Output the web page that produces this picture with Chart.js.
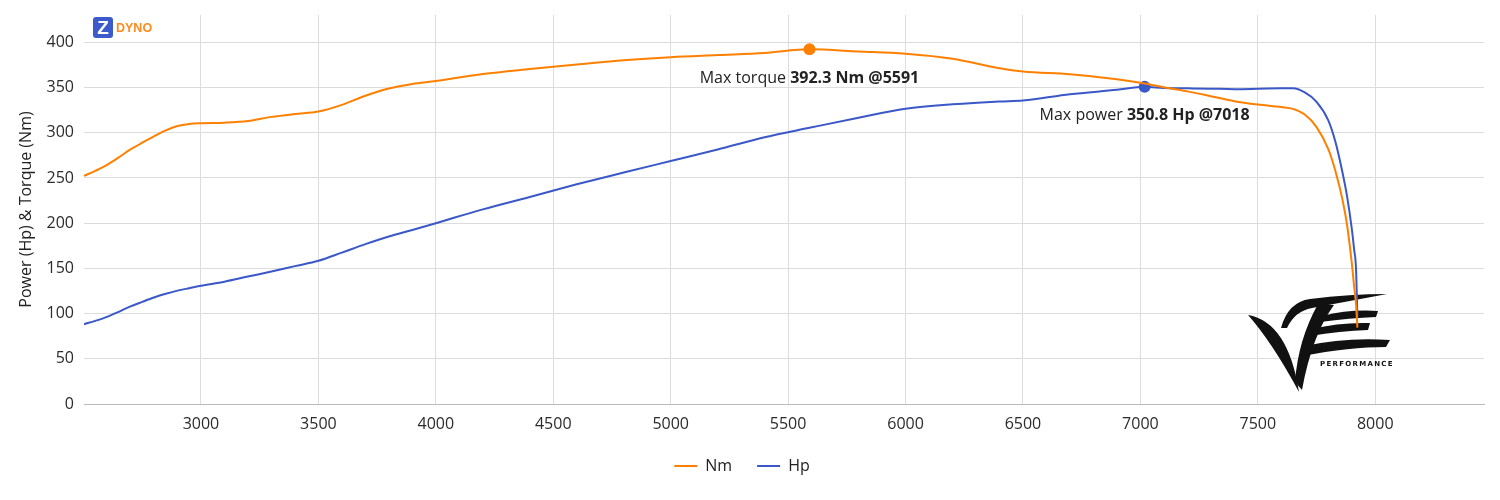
<!DOCTYPE html>
<html>
<head>
<meta charset="utf-8">
<script src="https://cdn.jsdelivr.net/npm/chart.js@4.4.1/dist/chart.umd.min.js"></script>
<style>
  html, body { margin: 0; padding: 0; background: #fff; }
  #wrap { position: relative; width: 1500px; height: 500px; }
  #logo { position: absolute; left: 93px; top: 17px; display: flex; align-items: center; font-family: Arial, "Liberation Sans", sans-serif; }
  #logo .z { width: 20px; height: 21px; background: #3b5bcc; color: #fff; border-radius: 3px; font-weight: bold; font-size: 19px; line-height: 21px; text-align: center; }
  #logo .t { color: #ff8a1e; font-weight: bold; font-size: 12.5px; margin-left: 3px; }
</style>
</head>
<body>
<div id="wrap">
  <canvas id="dyno" width="1500" height="500"></canvas>
  <div id="logo"><div class="z">Z</div><div class="t">DYNO</div></div>
</div>
<script>
// dyno run
const rpm = [2502, 2550, 2600, 2650, 2700, 2750, 2800, 2850, 2900, 2950,
    3000, 3100, 3200, 3300, 3400, 3500, 3600, 3700, 3800, 3900,
    4000, 4200, 4400, 4600, 4800, 5000, 5200, 5400, 5591, 5800,
    6000, 6200, 6400, 6500, 6700, 6900, 7018, 7100, 7200, 7300,
    7400, 7500, 7600, 7650, 7700, 7750, 7800, 7830, 7860, 7880,
    7900, 7910, 7918, 7924];
const torqueNm = [252.3, 257.9, 264.5, 272.8, 281.6, 289.0, 296.0, 302.6, 307.5, 309.8,
    310.6, 311.2, 313.0, 317.6, 320.8, 323.5, 330.9, 341.0, 349.0, 354.0,
    357.2, 365.0, 370.5, 375.5, 380.3, 383.7, 386.0, 388.3, 392.3, 390.0,
    387.5, 382.0, 371.5, 367.9, 364.8, 359.3, 354.6, 350.3, 345.8, 340.5,
    335.0, 331.3, 328.5, 326.5, 320.2, 306.3, 282.0, 258.0, 226.5, 198.0,
    156.0, 130.0, 110.5, 84.5];
const powerHp = [88.3, 92.0, 96.4, 102.0, 108.0, 113.0, 117.8, 121.9, 125.4, 128.1,
    130.7, 135.3, 141.0, 146.5, 152.5, 158.4, 167.5, 176.8, 185.3, 192.5,
    200.0, 215.3, 229.0, 243.0, 256.0, 268.8, 281.6, 295.0, 305.5, 316.7,
    326.5, 331.5, 334.7, 335.7, 342.7, 347.5, 350.8, 349.6, 349.2, 348.8,
    348.3, 348.7, 349.2, 349.3, 344.7, 334.3, 313.8, 290.3, 256.6, 229.7,
    194.0, 171.0, 150.0, 96.0];
const xTicks = [3000, 3500, 4000, 4500, 5000, 5500, 6000, 6500, 7000, 7500, 8000];
const yTicks = [0, 50, 100, 150, 200, 250, 300, 350, 400];
const maxTorque = { rpm: 5591, value: 392.3 };
const maxPower = { rpm: 7018, value: 350.8 };

const ORANGE = '#ff8000';
const BLUE = '#3a58c8';
const FONT = '"Open Sans", "Noto Sans", sans-serif';

Chart.defaults.font.family = FONT;
Chart.defaults.font.size = 16;
Chart.defaults.color = '#2b2b2b';

const toPoints = (ys) => rpm.map((r, i) => ({ x: r, y: ys[i] }));

// "Max torque 392.3 Nm @5591" style captions under the peak dots
const peakLabels = {
    id: 'peakLabels',
    afterDatasetsDraw(chart) {
        const { ctx, scales: { x, y } } = chart;
        const items = [
            [maxTorque, 'Max torque ', maxTorque.value.toFixed(1) + ' Nm @' + maxTorque.rpm],
            [maxPower, 'Max power ', maxPower.value.toFixed(1) + ' Hp @' + maxPower.rpm],
        ];
        ctx.save();
        ctx.textBaseline = 'middle';
        ctx.fillStyle = '#222';
        items.forEach(([pk, plain, bold]) => {
            const cx = x.getPixelForValue(pk.rpm);
            const cy = y.getPixelForValue(pk.value) + 29;
            ctx.font = '16px ' + FONT;
            const w1 = ctx.measureText(plain).width;
            ctx.font = 'bold 16px ' + FONT;
            const w2 = ctx.measureText(bold).width;
            const left = cx - (w1 + w2) / 2;
            ctx.font = '16px ' + FONT;
            ctx.fillText(plain, left, cy);
            ctx.font = 'bold 16px ' + FONT;
            ctx.fillText(bold, left + w1, cy);
        });
        ctx.restore();
    },
};

// rough brush-stroke watermark of the tuner logo
const zeLogo = {
    id: 'zeLogo',
    beforeDatasetsDraw(chart) {
        const ctx = chart.ctx;
        ctx.save();
        ctx.translate(1250, 280);
        ctx.fillStyle = '#111';
        // V left arm
        ctx.beginPath();
        ctx.moveTo(-2, 35);
        ctx.quadraticCurveTo(38, 42, 49, 112);
        ctx.quadraticCurveTo(22, 62, -2, 35);
        ctx.fill();
        // Z hook + top bar
        ctx.beginPath();
        ctx.moveTo(31, 48);
        ctx.quadraticCurveTo(38, 22, 60, 19);
        ctx.quadraticCurveTo(100, 14, 137, 14);
        ctx.quadraticCurveTo(100, 21, 62, 28);
        ctx.quadraticCurveTo(45, 31, 37, 48);
        ctx.fill();
        // Z diagonal into V right arm
        ctx.beginPath();
        ctx.moveTo(68, 24);
        ctx.lineTo(84, 25);
        ctx.quadraticCurveTo(62, 55, 52, 110);
        ctx.lineTo(45, 102);
        ctx.quadraticCurveTo(48, 60, 68, 24);
        ctx.fill();
        // E bars
        ctx.beginPath();
        ctx.moveTo(72, 36); ctx.quadraticCurveTo(100, 29, 128, 31);
        ctx.lineTo(126, 37); ctx.quadraticCurveTo(100, 38, 70, 42);
        ctx.fill();
        ctx.beginPath();
        ctx.moveTo(62, 49); ctx.quadraticCurveTo(90, 42, 120, 43);
        ctx.lineTo(118, 50); ctx.quadraticCurveTo(90, 51, 60, 56);
        ctx.fill();
        ctx.beginPath();
        ctx.moveTo(55, 66); ctx.quadraticCurveTo(95, 57, 140, 60);
        ctx.lineTo(136, 67); ctx.quadraticCurveTo(100, 67, 52, 76);
        ctx.fill();
        ctx.font = 'bold 7px "DejaVu Sans", sans-serif';
        ctx.textBaseline = 'middle';
        ctx.letterSpacing = '1.3px';
        ctx.fillText('PERFORMANCE', 70, 84.5);
        ctx.restore();
    },
};

new Chart(document.getElementById('dyno'), {
    type: 'line',
    data: {
        datasets: [
            { label: 'Nm', data: toPoints(torqueNm), borderColor: ORANGE, backgroundColor: ORANGE, borderWidth: 2, pointRadius: 0, cubicInterpolationMode: 'monotone' },
            { label: 'Hp', data: toPoints(powerHp), borderColor: BLUE, backgroundColor: BLUE, borderWidth: 2, pointRadius: 0, cubicInterpolationMode: 'monotone' },
            { label: 'peakNm', data: [{ x: maxTorque.rpm, y: maxTorque.value }], showLine: false, pointRadius: 6, pointBorderWidth: 0, pointBackgroundColor: ORANGE, borderColor: ORANGE },
            { label: 'peakHp', data: [{ x: maxPower.rpm, y: maxPower.value }], showLine: false, pointRadius: 6, pointBorderWidth: 0, pointBackgroundColor: BLUE, borderColor: BLUE },
        ],
    },
    options: {
        responsive: false,
        animation: false,
        layout: { padding: { left: 0, right: 16, top: 15, bottom: 16 } },
        plugins: {
            tooltip: { enabled: false },
            legend: {
                position: 'bottom',
                labels: {
                    filter: (item) => item.datasetIndex < 2,
                    usePointStyle: true,
                    pointStyle: 'line',
                    pointStyleWidth: 23,
                    padding: 25,
                    color: '#222',
                },
            },
        },
        scales: {
            x: {
                type: 'linear',
                min: 2502,
                max: 8463,
                afterBuildTicks: (s) => { s.ticks = xTicks.map((v) => ({ value: v })); },
                afterFit: (s) => { s.height = 29; s.paddingLeft = 0; s.paddingRight = 0; },
                ticks: { callback: (v) => String(v), padding: 11, maxRotation: 0, autoSkip: false },
                grid: { color: '#ddd', drawTicks: false },
                border: { color: '#bbb' },
            },
            y: {
                min: 0,
                max: 430.3,
                afterBuildTicks: (s) => { s.ticks = yTicks.map((v) => ({ value: v })); },
                afterFit: (s) => { s.width = 84; s.paddingTop = 0; s.paddingBottom = 0; },
                ticks: { padding: 10 },
                grid: { color: '#ddd', drawTicks: false },
                border: { display: false },
                title: { display: true, text: 'Power (Hp) & Torque (Nm)', color: '#222', padding: { top: 17, bottom: 0 } },
            },
        },
    },
    plugins: [zeLogo, peakLabels],
});
</script>
</body>
</html>
